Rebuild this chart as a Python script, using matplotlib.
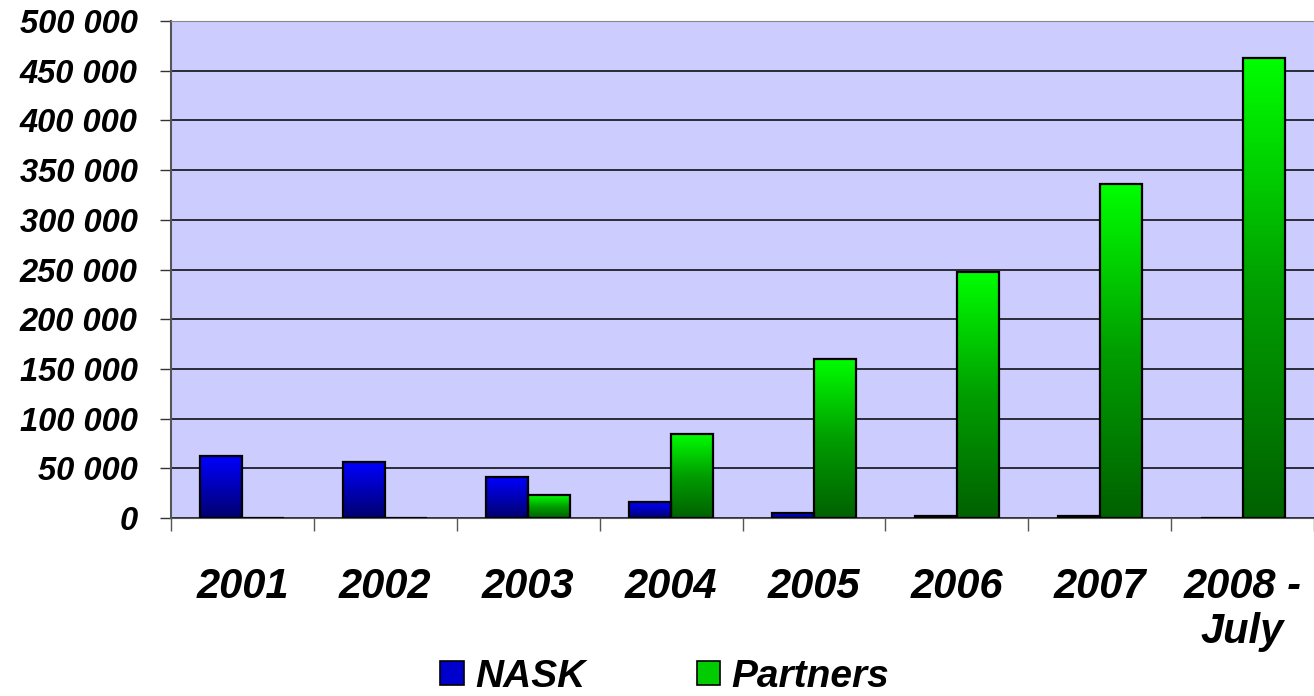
import numpy as np
import matplotlib
matplotlib.use("Agg")
import matplotlib.pyplot as plt
from matplotlib.colors import LinearSegmentedColormap
from matplotlib.patches import Patch

years = ["2001", "2002", "2003", "2004", "2005", "2006", "2007", "2008 -\nJuly"]
nask = [62000, 56000, 41000, 16000, 5000, 2500, 2500, 0]
partners = [0, 0, 23000, 85000, 160000, 247000, 336000, 463000]
yticks = [0, 50000, 100000, 150000, 200000, 250000, 300000, 350000, 400000, 450000, 500000]
ytick_labels = ["0", "50 000", "100 000", "150 000", "200 000", "250 000",
                "300 000", "350 000", "400 000", "450 000", "500 000"]

plt.rcParams['font.family'] = ['Liberation Sans', 'DejaVu Sans']

fig = plt.figure(figsize=(13.14, 6.96), dpi=100)
ax = fig.add_axes([171/1314, 1-518/696, 1143/1314, (518-21)/696])
ax.set_facecolor('#CCCCFF')

x = np.arange(len(years))
w = 0.294

blue_cmap = LinearSegmentedColormap.from_list('b', [(0, 0, 0.43), (0, 0, 1.0)])
green_cmap = LinearSegmentedColormap.from_list('g', [(0, 0.38, 0), (0, 0.62, 0), (0, 1.0, 0)])

grad = np.linspace(0, 1, 256).reshape(-1, 1)

def gradient_bars(centers, vals, cmap, label):
    bars = ax.bar(centers, vals, width=w, color='none', edgecolor='black',
                  linewidth=1.6, zorder=4, label=label)
    for b in bars:
        h = b.get_height()
        if h <= 0:
            continue
        x0 = b.get_x()
        im = ax.imshow(grad, cmap=cmap, aspect='auto', origin='lower',
                       extent=[x0, x0 + b.get_width(), 0, h], zorder=3,
                       interpolation='bilinear')
        im.set_clip_path(b)
    return bars

gradient_bars(x - w/2, nask, blue_cmap, 'NASK')
gradient_bars(x + w/2, partners, green_cmap, 'Partners')

ax.set_xlim(-0.5, 7.5)
ax.set_ylim(0, 500000)
ax.set_yticks(yticks)
ax.set_yticklabels(ytick_labels, fontsize=23.5, fontweight='bold', fontstyle='italic')
ax.yaxis.grid(True, color='black', linewidth=1.1, zorder=1)
ax.set_axisbelow(True)

ax.set_xticks(x)
ax.set_xticklabels(years, fontsize=30, fontweight='bold', fontstyle='italic',
                   linespacing=1.18)
ax.set_xticks(np.arange(-0.5, 8.0, 1.0), minor=True)
ax.tick_params(axis='x', which='major', length=0, pad=35)
ax.tick_params(axis='x', which='minor', length=9, color='#555555', width=1)
ax.tick_params(axis='y', length=8, width=1, color='#333333', pad=16)

ax.spines['right'].set_visible(False)
ax.spines['top'].set_color('#888888')
ax.spines['left'].set_color('#555555')
ax.spines['left'].set_linewidth(1.5)
ax.spines['bottom'].set_color('#555555')

handles = [Patch(facecolor='#0000CC', edgecolor='black', linewidth=1.2),
           Patch(facecolor='#00CC00', edgecolor='black', linewidth=1.2)]
fig.legend(handles, ['NASK', 'Partners'], loc='lower center',
           bbox_to_anchor=(0.506, 0.002), ncol=2, frameon=False,
           borderpad=0.0, borderaxespad=0.0,
           prop={'size': 28, 'weight': 'bold', 'style': 'italic'},
           handlelength=0.6, handleheight=0.6, handletextpad=0.3, columnspacing=2.85)

fig.savefig('out.png', dpi=100)
